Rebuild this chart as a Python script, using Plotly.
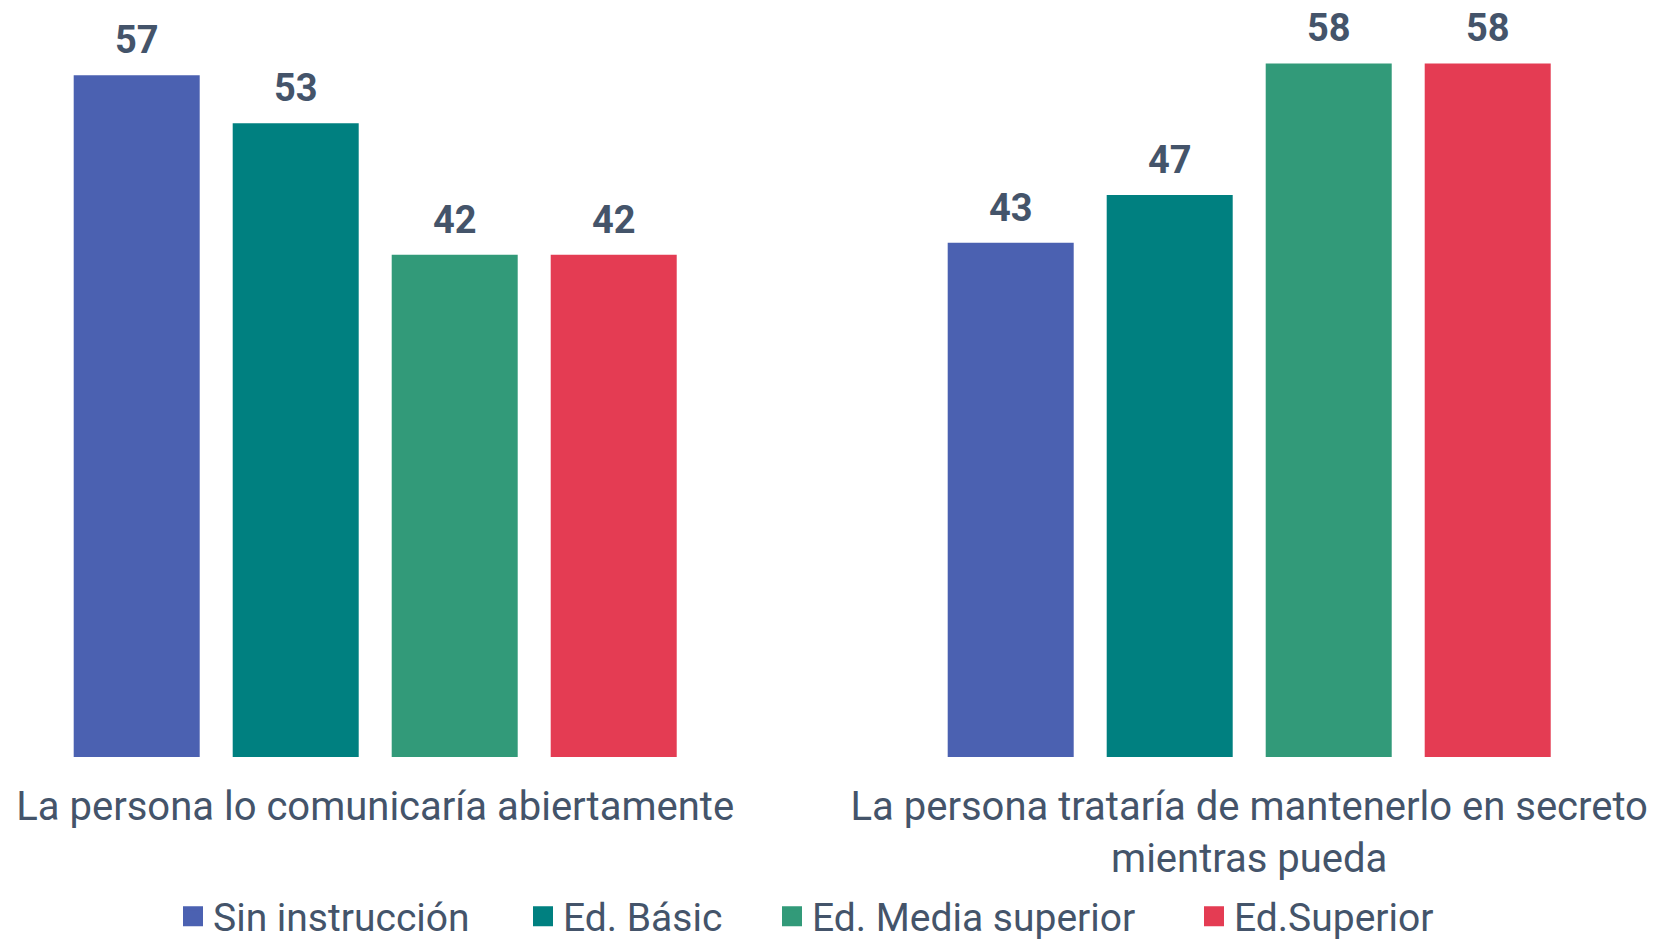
import plotly.graph_objects as go

categories = [
    "La persona lo comunicaría abiertamente",
    "La persona trataría de mantenerlo en secreto<br>mientras pueda",
]
series_names = ["Sin instrucción", "Ed. Básic", "Ed. Media superior", "Ed.Superior"]
series_values = [
    [57, 43],
    [53, 47],
    [42, 58],
    [42, 58],
]
colors = ["#4B61B1", "#008080", "#329A79", "#E43C53"]

TEXT_COLOR = "#44546A"
FONT = "Roboto, Arial, sans-serif"

BARGAP = 0.2723
BARGROUPGAP = 0.2075

x_pos = list(range(len(categories)))
n_series = len(series_names)
slot = (1 - BARGAP) / n_series

# left edge (pixels) of each legend swatch
legend_left_px = [188, 538, 787, 1209]
W, H = 1662, 945

fig = go.Figure()
annotations = []
for i, (name, vals, col) in enumerate(zip(series_names, series_values, colors)):
    fig.add_trace(go.Bar(
        x=x_pos,
        y=vals,
        name=name,
        marker=dict(color=col, line=dict(width=0)),
        showlegend=False,
    ))
    # value labels centred above each bar of this series
    offset = (i - (n_series - 1) / 2) * slot
    for xc, v in zip(x_pos, vals):
        annotations.append(dict(
            x=xc + offset, y=v, xref="x", yref="y",
            text=f"<b>{v}</b>", showarrow=False,
            yanchor="middle", yshift=35,
            font=dict(family=FONT, size=38, color=TEXT_COLOR),
        ))
    # one legend per series so each entry sits at its own spot
    legend_id = "legend" if i == 0 else f"legend{i + 1}"
    fig.add_trace(go.Scatter(
        x=[None], y=[None], mode="markers", name=name,
        marker=dict(symbol="square", size=16, color=col,
                    line=dict(color=col, width=4)),
        showlegend=True, legend=legend_id,
    ))

legend_style = dict(
    orientation="h",
    xanchor="left",
    y=-0.2105,
    yanchor="middle",
    font=dict(family=FONT, size=39, color=TEXT_COLOR),
    itemclick=False,
    bgcolor="rgba(0,0,0,0)",
)
legends = {}
for i, px in enumerate(legend_left_px):
    key = "legend" if i == 0 else f"legend{i + 1}"
    legends[key] = dict(legend_style, x=(px - 15) / W)

fig.update_layout(
    width=W,
    height=H,
    margin=dict(l=0, r=0, t=0, b=188, autoexpand=False),
    paper_bgcolor="white",
    plot_bgcolor="white",
    barmode="group",
    bargap=BARGAP,
    bargroupgap=BARGROUPGAP,
    font=dict(family=FONT, color=TEXT_COLOR, size=40),
    xaxis=dict(
        range=[-0.4293, 1.4723],
        tickmode="array",
        tickvals=x_pos,
        ticktext=categories,
        showgrid=False,
        zeroline=False,
        showline=False,
        ticks="",
        automargin=False,
        ticklabelstandoff=22,
        tickfont=dict(family=FONT, size=40, color=TEXT_COLOR),
    ),
    yaxis=dict(
        range=[0, 63.3],
        visible=False,
        showgrid=False,
        zeroline=False,
        automargin=False,
    ),
    annotations=annotations,
    **legends,
)

fig.write_html("out.html")
